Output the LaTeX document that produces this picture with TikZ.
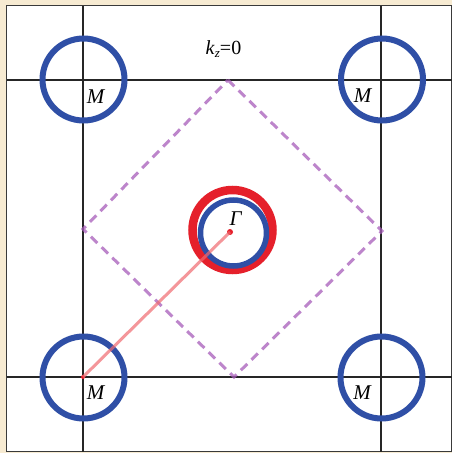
\documentclass[tikz,border=0pt]{standalone}
\usepackage{fontspec}
\setmainfont{Liberation Serif}
\definecolor{beige}{HTML}{F7EBD2}
\definecolor{frame}{HTML}{3A3A3A}
\definecolor{ringblue}{HTML}{2F4FA6}
\definecolor{ringred}{HTML}{E5202B}
\definecolor{diapurple}{HTML}{A75DBA}
\definecolor{pathred}{HTML}{F06A70}
\tikzset{
  gridline/.style={draw=black!85, line width=1.1pt},
  bluering/.style={draw=ringblue, line width=6pt},
  innerring/.style={draw=ringblue, line width=5.5pt},
  redring/.style={draw=ringred, line width=8.5pt},
  bzone/.style={draw=diapurple, line width=3pt, dash pattern=on 9pt off 6pt, opacity=0.75},
  kpath/.style={draw=pathred, line width=3pt, opacity=0.7},
  lab/.style={font=\fontsize{21}{21}\selectfont\itshape, inner sep=0pt},
  dotpt/.style={fill=ringred, circle, inner sep=0pt, minimum size=6pt}
}
\begin{document}
\begin{tikzpicture}[x=1pt, y=-1pt]
\useasboundingbox (0,0) rectangle (452,453);
\fill[beige] (0,0) rectangle (452,453);
\filldraw[fill=white, draw=frame, line width=1.6pt] (6.5,5.5) rectangle (451.5,451.5);
% grid
\coordinate (v1t) at (83,5.5); \coordinate (v1b) at (83,451.5);
\coordinate (v2t) at (381,5.5); \coordinate (v2b) at (381,451.5);
\coordinate (h1l) at (6.5,80); \coordinate (h1r) at (451.5,80);
\coordinate (h2l) at (6.5,377); \coordinate (h2r) at (451.5,377);
\draw[gridline] (v1t) -- (v1b);
\draw[gridline] (v2t) -- (v2b);
\draw[gridline] (h1l) -- (h1r);
\draw[gridline] (h2l) -- (h2r);
% M points
\coordinate (M1) at (83,80);
\coordinate (M2) at (381,80);
\coordinate (M3) at (83,377);
\coordinate (M4) at (381,377);
\coordinate (G) at (230,232);
% diamond (Brillouin zone)
\coordinate (dt) at (228,80);
\coordinate (dr) at (382,231);
\coordinate (db) at (234,377);
\coordinate (dl) at (83,229);
\draw[bzone] (dt) -- (dr) -- (db) -- (dl) -- cycle;
% M rings
\draw[bluering] (83.5,79.5) circle[radius=41pt];
\draw[bluering] (382,79.5) circle[radius=41pt];
\draw[bluering] (83.5,377.5) circle[radius=41pt];
\draw[bluering] (381.5,377.5) circle[radius=41pt];
% Gamma rings
\draw[redring] (232.5,230) circle[radius=40pt];
\draw[innerring] (233.5,233) circle[radius=33pt];
% path
\node[dotpt] (Gd) at (G) {};
\node[dotpt, minimum size=4pt] (Md) at (M3) {};
\draw[kpath] (Gd.center) -- (Md.center);
% labels
\node[lab] (lM1) at (95.5,96.5) {M};
\node[lab] (lM2) at (362.5,96) {M};
\node[lab] (lM3) at (95.5,393) {M};
\node[lab] (lM4) at (362,393) {M};
\node[lab] (lG) at (235.5,218.5) {Γ};
\node[font=\fontsize{20}{20}\selectfont, inner sep=0pt, anchor=base] (kz) at (223.5,54) {\textit{k}\raisebox{-0.35ex}{\fontsize{13}{13}\selectfont\textit{z}}=0};
\end{tikzpicture}
\end{document}
